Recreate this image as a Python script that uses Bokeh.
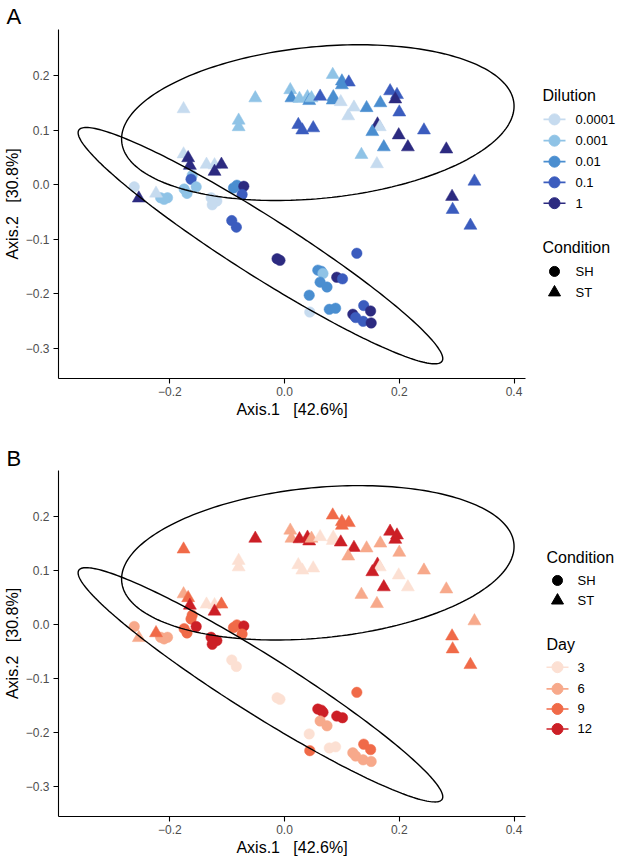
import numpy as np
from bokeh.plotting import figure
from bokeh.layouts import column, row
from bokeh.models import FixedTicker, CustomJSTickFormatter, Range1d
from bokeh.core.properties import value
from bokeh.embed import file_html
from bokeh.resources import INLINE

# ---------------- data ----------------
st_x = [-0.176, -0.051, -0.080, -0.080, 0.010, 0.012, 0.026, 0.040, 0.043, 0.047,
        0.062, 0.084, 0.100, 0.112, 0.100, 0.085, 0.084, 0.098, 0.121, 0.111,
        0.143, 0.167, 0.184, 0.196, 0.193, 0.200, 0.024, 0.031, 0.050, 0.162,
        0.166, 0.153, 0.199, 0.243, 0.215, 0.173, 0.134, 0.161, 0.282, 0.331,
        0.292, 0.293, 0.324, -0.176, -0.168, -0.165, -0.136, -0.122, -0.110, -0.122,
        -0.254, -0.224]
st_y = [0.139, 0.159, 0.118, 0.106, 0.174, 0.159, 0.158, 0.161, 0.154, 0.159,
        0.162, 0.202, 0.190, 0.188, 0.183, 0.161, 0.155, 0.152, 0.142, 0.126,
        0.141, 0.150, 0.172, 0.165, 0.157, 0.133, 0.110, 0.100, 0.104, 0.111,
        0.106, 0.097, 0.091, 0.100, 0.069, 0.069, 0.055, 0.038, 0.065, 0.006,
        -0.022, -0.046, -0.075, 0.056, 0.049, 0.035, 0.037, 0.036, 0.037, 0.024,
        -0.025, -0.016]
st_dilution = ["0.0001", "0.001", "0.001", "0.001", "0.001", "0.01", "0.001", "0.001", "0.01", "0.001",
               "0.1", "0.001", "0.01", "0.1", "0.01", "0.01", "0.01", "0.0001", "0.0001", "0.0001",
               "0.01", "0.01", "0.1", "0.1", "1", "0.1", "0.1", "0.1", "0.1", "1",
               "0.0001", "0.01", "1", "0.1", "1", "0.01", "0.001", "0.0001", "1", "0.1",
               "1", "0.1", "0.1", "0.0001", "1", "1", "0.0001", "0.0001", "1", "1",
               "1", "0.0001"]
st_day = ["9", "12", "3", "3", "6", "6", "12", "12", "12", "6",
          "3", "9", "9", "9", "9", "3", "3", "12", "12", "6",
          "6", "6", "12", "12", "12", "6", "3", "3", "3", "12",
          "3", "12", "3", "6", "3", "12", "6", "6", "6", "6",
          "9", "9", "9", "6", "9", "12", "3", "3", "9", "12",
          "6", "9"]

sh_x = [-0.262, -0.216, -0.204, -0.210, -0.175, -0.170, -0.161, -0.163, -0.154, -0.128,
        -0.118, -0.126, -0.089, -0.083, -0.071, -0.074, -0.092, -0.084, -0.013, -0.008,
        0.126, 0.058, 0.064, 0.067, 0.062, 0.074, 0.091, 0.101, 0.043, 0.044,
        0.078, 0.089, 0.119, 0.124, 0.138, 0.150, 0.137, 0.151]
sh_y = [-0.004, -0.024, -0.024, -0.027, -0.008, -0.016, 0.017, 0.010, -0.004, -0.024,
        -0.030, -0.037, -0.006, -0.001, -0.003, -0.018, -0.066, -0.078, -0.136, -0.139,
        -0.126, -0.157, -0.159, -0.163, -0.179, -0.188, -0.170, -0.173, -0.203, -0.234,
        -0.229, -0.227, -0.238, -0.244, -0.222, -0.232, -0.251, -0.254]
sh_dilution = ["0.0001", "0.001", "0.001", "0.001", "0.001", "0.001", "0.001", "0.1", "0.001", "0.0001",
               "0.0001", "0.0001", "0.01", "0.01", "1", "0.1", "0.1", "0.1", "1", "1",
               "0.1", "0.01", "0.01", "0.001", "0.01", "0.01", "1", "0.1", "0.01", "0.0001",
               "0.01", "0.01", "1", "0.1", "0.1", "1", "0.1", "1"]
sh_day = ["6", "6", "6", "6", "9", "9", "9", "9", "12", "12",
          "12", "12", "9", "9", "12", "9", "3", "3", "3", "3",
          "9", "12", "12", "12", "6", "6", "12", "12", "3", "9",
          "3", "3", "6", "6", "9", "9", "6", "6"]

dilution_levels = ["0.0001", "0.001", "0.01", "0.1", "1"]
dilution_colors = ["#c6dbef", "#8fc3e6", "#4a8ed0", "#3b5cbe", "#2c2a80"]
day_levels = ["3", "6", "9", "12"]
day_colors = ["#fce0d3", "#f7a98b", "#f06a48", "#cc1f26"]
condition_levels = ["SH", "ST"]

# ellipse shape per condition: centre and covariance (xx, xy, yy)
sh_ellipse_center = [-0.042, -0.112]
sh_ellipse_cov = [0.101, -0.0659, 0.0471]
st_ellipse_center = [0.058, 0.114]
st_ellipse_cov = [0.1170, 0.0103, 0.02045]

x_ticks = [-0.2, 0.0, 0.2, 0.4]
y_ticks = [-0.3, -0.2, -0.1, 0.0, 0.1, 0.2]
x_title = "Axis.1 \u00a0 [42.6%]"
y_title = "Axis.2 \u00a0 [30.8%]"

FONT = "Liberation Sans"
X0, X1 = -0.394, 0.42
Y0, Y1 = -0.356, 0.285
FRAME_W = 473


def ellipse_path(center, cov, n=240):
    m = np.array([[cov[0], cov[1]], [cov[1], cov[2]]])
    L = np.linalg.cholesky(m)
    t = np.linspace(0, 2 * np.pi, n)
    pts = L @ np.vstack([np.cos(t), np.sin(t)])
    return list(pts[0] + center[0]), list(pts[1] + center[1])


def main_fig(h, top, bottom, letter, letter_standoff, levels, colors, key_sh, key_st):
    p = figure(width=52 + FRAME_W + 2, height=h, x_range=Range1d(X0, X1), y_range=Range1d(Y0, Y1),
               output_backend="svg", toolbar_location=None, title=letter,
               min_border_left=52, min_border_right=2, min_border_top=top, min_border_bottom=bottom)
    p.title.align = "left"
    p.title.offset = -52
    p.title.standoff = letter_standoff
    p.title.text_font = FONT
    p.title.text_font_size = "22px"
    p.title.text_font_style = "normal"
    p.title.text_color = "black"
    p.outline_line_color = None
    p.grid.visible = False
    p.background_fill_color = "white"
    p.border_fill_color = "white"
    p.xaxis.ticker = FixedTicker(ticks=x_ticks)
    p.yaxis.ticker = FixedTicker(ticks=y_ticks)
    fmt = "return tick.toFixed(1).replace('-', '\u2212');"
    p.xaxis.formatter = CustomJSTickFormatter(code=fmt)
    p.yaxis.formatter = CustomJSTickFormatter(code=fmt)
    p.xaxis.axis_label = x_title
    p.yaxis.axis_label = y_title
    for ax in (p.xaxis, p.yaxis):
        ax.axis_line_color = "black"
        ax.axis_line_width = 1.1
        ax.major_tick_line_color = "black"
        ax.major_tick_line_width = 1.1
        ax.major_tick_out = 5
        ax.major_tick_in = 0
        ax.minor_tick_out = 0
        ax.minor_tick_in = 0
        ax.major_label_text_color = "#4d4d4d"
        ax.major_label_text_font = FONT
        ax.major_label_text_font_size = "12px"
        ax.axis_label_text_font = FONT
        ax.axis_label_text_font_size = "16px"
        ax.axis_label_text_font_style = "normal"
        ax.axis_label_text_color = "black"
    p.xaxis.major_label_standoff = 3
    p.xaxis.axis_label_standoff = 2
    p.yaxis.major_label_standoff = 4
    p.yaxis.axis_label_standoff = 2

    cmap = dict(zip(levels, colors))
    p.scatter(sh_x, sh_y, marker="circle", size=10.5,
              fill_color=[cmap[k] for k in key_sh], line_color=[cmap[k] for k in key_sh], line_width=0.5)
    p.scatter(st_x, st_y, marker="triangle", size=13,
              fill_color=[cmap[k] for k in key_st], line_color=[cmap[k] for k in key_st], line_width=0.5)

    for c, cv in ((sh_ellipse_center, sh_ellipse_cov), (st_ellipse_center, st_ellipse_cov)):
        ex, ey = ellipse_path(c, cv)
        p.line(ex, ey, line_color="black", line_width=1.4)
    return p


def legend_fig(h, w, blocks, key_x, label_x, title_x):
    lf = figure(width=w, height=h, x_range=Range1d(0, w), y_range=Range1d(h, 0),
                output_backend="svg", toolbar_location=None, min_border=0,
                x_axis_type=None, y_axis_type=None)
    lf.outline_line_color = None
    lf.grid.visible = False
    lf.background_fill_color = "white"
    lf.border_fill_color = "white"
    for kind, title, ty, labels, ys, colors in blocks:
        lf.text(x=[title_x], y=[ty], text=[title], text_font=value(FONT), text_font_size=value("16px"),
                text_baseline="middle", text_align="left", text_color="black")
        lf.text(x=[label_x] * len(labels), y=ys, text=labels, text_font=value(FONT),
                text_font_size=value("13px"), text_baseline="middle", text_align="left", text_color="black")
        if kind == "colour":
            lf.segment(x0=[key_x - 11] * len(ys), y0=ys, x1=[key_x + 11] * len(ys), y1=ys,
                       line_color=colors, line_width=1.6)
            lf.scatter([key_x] * len(ys), ys, marker="circle", size=11, fill_color=colors, line_color=colors)
        else:
            lf.scatter([key_x], [ys[0]], marker="circle", size=10, color="black")
            lf.scatter([key_x], [ys[1]], marker="triangle", size=12, color="black")
    return lf


hA, hB = 427, 431
LW = 616 - (52 + FRAME_W + 2)

pA = main_fig(hA, 28, 49, "A", 2, dilution_levels, dilution_colors, sh_dilution, st_dilution)
lA = legend_fig(hA, LW, [
    ("colour", "Dilution", 81, dilution_levels, [110, 136, 161.7, 187, 212.5], dilution_colors),
    ("shape", "Condition", 266.7, condition_levels, [296, 321.7], None),
], key_x=27, label_x=48, title_x=15)

pB = main_fig(hB, 43, 41, "B", 0, day_levels, day_colors, sh_day, st_day)
lB = legend_fig(hB, LW, [
    ("shape", "Condition", 108, condition_levels, [137, 162], None),
    ("colour", "Day", 217, day_levels, [245, 272, 297, 322], day_colors),
], key_x=30, label_x=50, title_x=19)

layout = column(row(pA, lA), row(pB, lB))
open("out.html", "w").write(file_html(layout, INLINE))
